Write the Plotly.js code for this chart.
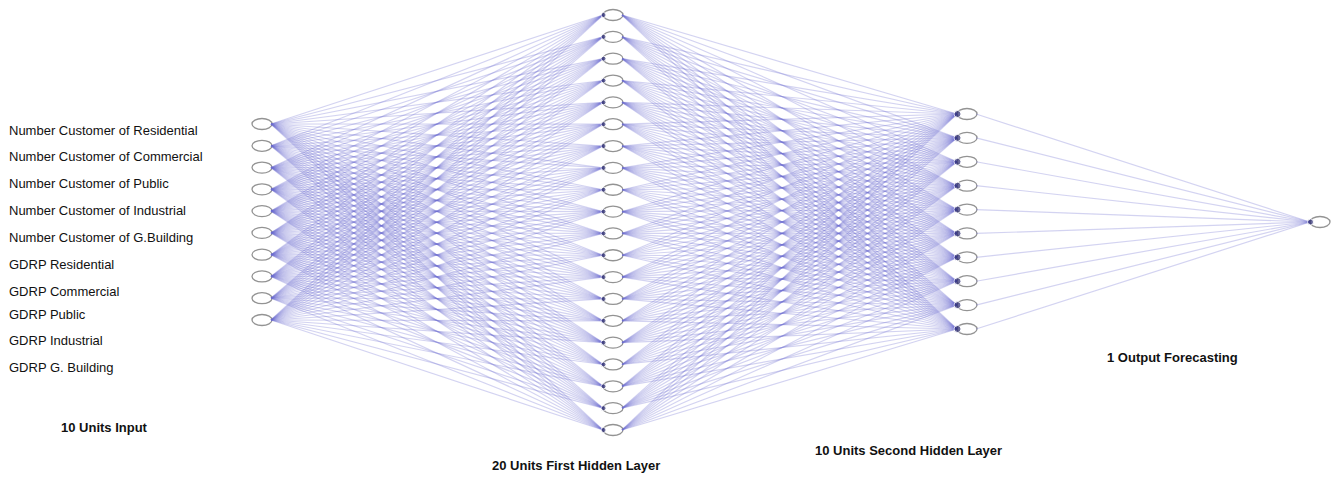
<!DOCTYPE html>
<html>
<head>
<meta charset="utf-8">
<script src="https://cdn.plot.ly/plotly-3.0.1.min.js"></script>
<style>html,body{margin:0;padding:0;background:#fff;}#chart{width:1341px;height:477px;}</style>
</head>
<body>
<div id="chart"></div>
<script>
// Layer definitions
var layerNames = ["10 Units Input", "20 Units First Hidden Layer", "10 Units Second Hidden Layer", "1 Output Forecasting"];
var layerSizes = [10, 20, 10, 1];
var layerX = [262, 613, 967, 1320];
var layerTop = [124, 15, 114, 222];
var layerBottom = [320, 430, 329, 222];
var inputLabels = ["Number Customer of Residential", "Number Customer of Commercial", "Number Customer of Public",
  "Number Customer of Industrial", "Number Customer of G.Building", "GDRP Residential", "GDRP Commercial",
  "GDRP Public", "GDRP Industrial", "GDRP G. Building"];
var inputLabelY = [130, 156, 183, 210, 237, 264, 291, 314, 340, 367];
var layerTitleX = [104, 576, 908, 1172];
var layerTitleY = [427, 465, 450, 357];
var dotSizes = [0, 5, 7, 6];

var rx = 10, ry = 5.5;
function nodeYs(i) {
  var n = layerSizes[i], ys = [];
  for (var k = 0; k < n; k++) ys.push(n === 1 ? layerTop[i] : layerTop[i] + (layerBottom[i] - layerTop[i]) * k / (n - 1));
  return ys;
}
var allY = layerSizes.map(function (_, i) { return nodeYs(i); });

var ex = [], ey = [];
for (var l = 0; l < layerSizes.length - 1; l++) {
  allY[l].forEach(function (y0) {
    allY[l + 1].forEach(function (y1) {
      ex.push(layerX[l] + rx - 1, layerX[l + 1] - rx, null);
      ey.push(y0, y1, null);
    });
  });
}
var traces = [{
  type: "scatter", mode: "lines", x: ex, y: ey, hoverinfo: "skip",
  line: {color: "rgba(110,110,210,0.3)", width: 1.2}
}];
var dx = [], dy = [], ds = [];
for (var l2 = 1; l2 < layerSizes.length; l2++) {
  allY[l2].forEach(function (y) { dx.push(layerX[l2] - rx + 0.5); dy.push(y); ds.push(dotSizes[l2]); });
}
traces.push({type: "scatter", mode: "markers", x: dx, y: dy, hoverinfo: "skip",
  marker: {color: "#26266f", size: ds}});

var shapes = [];
layerSizes.forEach(function (_, i) {
  allY[i].forEach(function (y) {
    shapes.push({type: "circle", layer: "below", xref: "x", yref: "y", x0: layerX[i] - rx, x1: layerX[i] + rx,
      y0: y - ry, y1: y + ry, line: {color: "#939393", width: 1.3}, fillcolor: "#ffffff"});
  });
});

var annotations = [];
inputLabels.forEach(function (t, k) {
  annotations.push({x: 7, y: inputLabelY[k], xref: "x", yref: "y", text: t, showarrow: false,
    xanchor: "left", yanchor: "middle", font: {family: "Liberation Sans", size: 13, color: "#111"}});
});
layerNames.forEach(function (t, i) {
  annotations.push({x: layerTitleX[i], y: layerTitleY[i], xref: "x", yref: "y", text: "<b>" + t + "</b>",
    showarrow: false, xanchor: "center", yanchor: "middle",
    font: {family: "Liberation Sans", size: 13, color: "#111"}});
});

var layout = {
  width: 1341, height: 477, margin: {l: 0, r: 0, t: 0, b: 0},
  paper_bgcolor: "#fff", plot_bgcolor: "#fff", showlegend: false,
  xaxis: {range: [0, 1341], visible: false, fixedrange: true},
  yaxis: {range: [477, 0], visible: false, fixedrange: true},
  shapes: shapes, annotations: annotations
};
Plotly.newPlot("chart", traces, layout, {staticPlot: true});
</script>
</body>
</html>
